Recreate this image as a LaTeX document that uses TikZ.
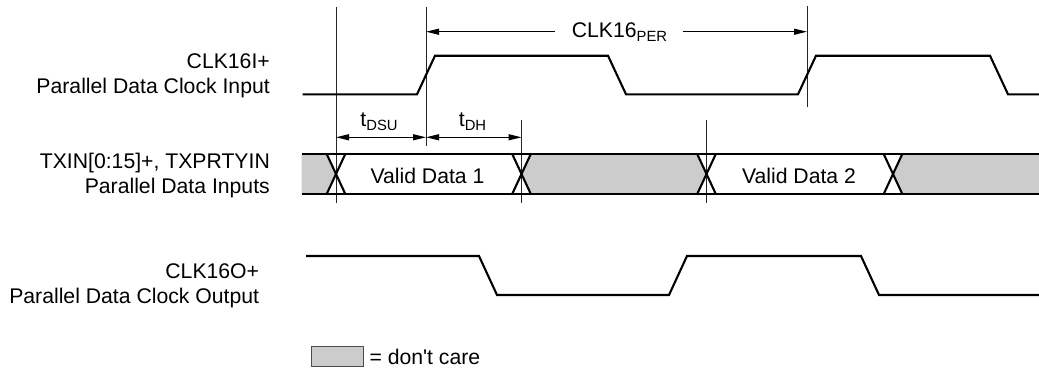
\documentclass[tikz,border=0pt]{standalone}
\usepackage{fontspec}
\setmainfont{Liberation Sans}
\usetikzlibrary{arrows.meta}
\newcommand\mainfs{\fontsize{21.2}{24}\selectfont}
\newcommand\mysub[1]{\raisebox{-3.7pt}{\fontsize{14.8}{15}\selectfont #1}}
\definecolor{dcgray}{HTML}{CCCCCC}
\tikzset{
  sig/.style={line width=2.1pt, line join=miter, line cap=butt},
  guide/.style={line width=0.9pt, black!85},
  dimarrow/.style={line width=1.2pt, -{Triangle[length=13pt,width=6pt]}},
  dimboth/.style={line width=1.2pt, {Triangle[length=13pt,width=6pt]}-{Triangle[length=13pt,width=6pt]}},
  lbl/.style={inner sep=0pt, font=\mainfs, anchor=base east},
  txt/.style={inner sep=0pt, font=\mainfs, anchor=base},
  dc/.style={fill=dcgray, draw=none},
}
\begin{document}
\begin{tikzpicture}[x=1pt,y=-1pt]
\useasboundingbox (0,0) rectangle (1039,370);

% signal labels
\node[lbl] (l1a) at (270,68.3) {CLK16I+};
\node[lbl] (l1b) at (270,93.3) {Parallel Data Clock Input};
\node[lbl] (l2a) at (270,168.3) {TXIN[0:15]+, TXPRTYIN};
\node[lbl] (l2b) at (270,193.3) {Parallel Data Inputs};
\node[lbl] (l3a) at (259.3,278.3) {CLK16O+};
\node[lbl] (l3b) at (259.3,303.3) {Parallel Data Clock Output};

% guide lines
\coordinate (g1t) at (336,6.7);   \coordinate (g1b) at (336,203);
\coordinate (g2t) at (426,6.7);   \coordinate (g2b) at (426,145.7);
\coordinate (g3t) at (521.5,120); \coordinate (g3b) at (521.5,203);
\coordinate (g4t) at (807,6);     \coordinate (g4b) at (807,106.7);
\coordinate (g5t) at (706.5,120); \coordinate (g5b) at (706.5,203);
\draw[guide] (g1t) -- (g1b);
\draw[guide] (g2t) -- (g2b);
\draw[guide] (g3t) -- (g3b);
\draw[guide] (g4t) -- (g4b);
\draw[guide] (g5t) -- (g5b);

% clock input
\draw[sig] (302.7,94.3) -- (417,94.3) -- (435,55.7) -- (608,55.7) -- (626,94.3)
  -- (798,94.3) -- (816,55.7) -- (990,55.7) -- (1008,94.3) -- (1040,94.3);

% period arrow
\node[txt] (per) at (619.5,37.3) {CLK16\mysub{PER}};
\coordinate (perL) at (555,31.7);
\coordinate (perR) at (683,31.7);
\coordinate (perA) at (426,31.7);
\coordinate (perB) at (807,31.7);
\draw[dimarrow] (perL) -- (perA);
\draw[dimarrow] (perR) -- (perB);

% setup / hold
\coordinate (d1) at (336,137.3);
\coordinate (d2) at (426,137.3);
\coordinate (d3) at (521.5,137.3);
\draw[dimboth] (d1) -- (d2);
\draw[dimboth] (d2) -- (d3);
\node[txt] (tdsu) at (379,126.7) {t\mysub{DSU}};
\node[txt] (tdh) at (472.5,126.7) {t\mysub{DH}};

% data bus
\def\bt{154}\def\bb{194}\def\bm{174}\def\hh{9.3}
\fill[dc] (301.7,\bt) -- (336-\hh,\bt) -- (336,\bm) -- (336-\hh,\bb) -- (301.7,\bb) -- cycle;
\fill[dc] (521.5,\bm) -- (521.5+\hh,\bt) -- (706.5-\hh,\bt) -- (706.5,\bm) -- (706.5-\hh,\bb) -- (521.5+\hh,\bb) -- cycle;
\fill[dc] (893,\bm) -- (893+\hh,\bt) -- (1040,\bt) -- (1040,\bb) -- (893+\hh,\bb) -- cycle;
\draw[sig] (301.7,\bt) -- (1040,\bt);
\draw[sig] (301.7,\bb) -- (1040,\bb);
\foreach \c in {336,521.5,706.5,893}{
  \draw[sig] (\c-\hh,\bt) -- (\c+\hh,\bb);
  \draw[sig] (\c-\hh,\bb) -- (\c+\hh,\bt);
}
\node[txt] (vd1) at (427.5,183.3) {Valid Data 1};
\node[txt] (vd2) at (799,183.3) {Valid Data 2};

% clock output
\draw[sig] (306,256) -- (479,256) -- (497,295) -- (669,295) -- (687,256)
  -- (861,256) -- (879,295) -- (1040,295);

% legend
\node[draw=black!70, line width=0.9pt, fill=dcgray, minimum width=51.6pt, minimum height=19.3pt, inner sep=0pt] (leg) at (337.5,356.4) {};
\node[inner sep=0pt, font=\mainfs, anchor=base west] (legt) at (369.3,364.5) {= don\textquotesingle t care};
\end{tikzpicture}
\end{document}
